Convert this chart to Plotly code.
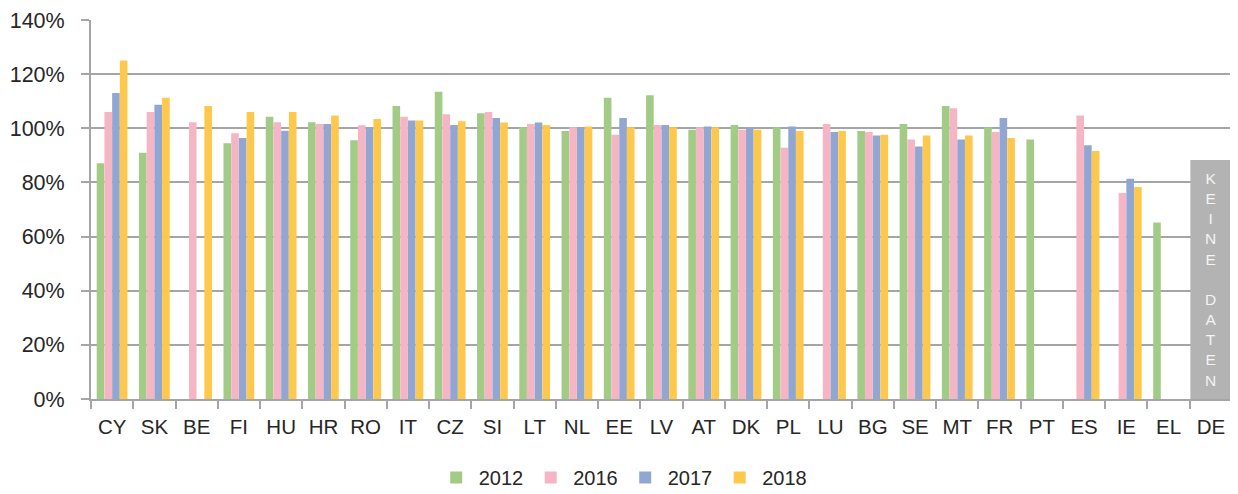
import plotly.graph_objects as go

categories = ["CY", "SK", "BE", "FI", "HU", "HR", "RO", "IT", "CZ", "SI", "LT", "NL", "EE", "LV",
              "AT", "DK", "PL", "LU", "BG", "SE", "MT", "FR", "PT", "ES", "IE", "EL", "DE"]
years = ["2012", "2016", "2017", "2018"]

v2012 = [87.1, 91.0, None, 94.5, 104.3, 102.2, 95.6, 108.2, 113.5, 105.6, 100.4, 99.0, 111.3, 112.2,
         99.5, 101.2, 100.4, None, 99.0, 101.6, 108.2, 100.4, 95.9, None, None, 65.2, None]
v2016 = [106.0, 106.0, 102.2, 98.2, 102.2, 101.6, 101.1, 104.3, 105.2, 106.0, 101.6, 100.4, 97.6, 101.2,
         100.4, 99.5, 92.8, 101.6, 98.6, 95.9, 107.4, 98.6, None, 104.7, 76.1, None, None]
v2017 = [113.0, 108.7, None, 96.4, 99.1, 101.6, 100.0, 102.9, 101.2, 103.8, 102.1, 100.0, 103.8, 101.2,
         100.7, 100.0, 100.7, 98.6, 97.3, 93.3, 95.9, 103.8, None, 93.7, 81.4, None, None]
v2018 = [125.0, 111.3, 108.2, 106.0, 106.0, 104.7, 103.4, 102.9, 102.6, 102.1, 101.2, 100.7, 100.4, 100.4,
         100.4, 99.5, 99.0, 99.0, 97.6, 97.3, 97.3, 96.4, None, 91.6, 78.3, None, None]
no_data_cat = ["DE"]
no_data_height = [88.3]
no_data_words = ["KEINE", "DATEN"]

series = [v2012, v2016, v2017, v2018]
colors = ["#A2CB86", "#F5B5C5", "#91A7D2", "#FEC84C"]

bar_w = 0.18
offsets = [-0.365, -0.1825, 0.0, 0.1825]

fig = go.Figure()
for name, vals, col, off in zip(years, series, colors, offsets):
    fig.add_trace(go.Bar(
        x=categories, y=vals, name=name,
        marker=dict(color=col, line=dict(width=0)),
        width=bar_w, offset=off,
    ))

fig.add_trace(go.Bar(
    x=no_data_cat, y=no_data_height, showlegend=False,
    marker=dict(color="#B3B3B3", line=dict(width=0)),
    width=0.97, offset=-0.485, hoverinfo="skip",
))

vertical_text = "<br><br>".join("<br>".join(list(w)) for w in no_data_words)
fig.add_annotation(
    x=no_data_cat[0], y=no_data_height[0] / 2, xref="x", yref="y",
    text=vertical_text, showarrow=False,
    font=dict(family="Liberation Sans, Arial", size=15.5, color="#F4F4F4"),
    align="center",
)

fig.update_layout(
    barmode="overlay",
    width=1230, height=486,
    margin=dict(l=83, r=6, t=12, b=95, autoexpand=False),
    paper_bgcolor="white", plot_bgcolor="white",
    font=dict(family="Liberation Sans, Arial", size=20, color="#262626"),
    legend=dict(orientation="h", x=0.466, xanchor="center", y=-0.207, yanchor="middle",
                font=dict(size=20), itemwidth=35, traceorder="normal"),
    showlegend=True,
)
fig.update_yaxes(
    range=[0, 140], dtick=20, ticksuffix="%",
    showgrid=True, gridcolor="#A5A5A5", gridwidth=2,
    showline=True, linecolor="#A5A5A5", linewidth=2,
    ticks="outside", ticklen=8, tickcolor="#A5A5A5", tickwidth=2,
    ticklabelstandoff=12, zeroline=False,
    tickfont=dict(size=21.5),
)
fig.update_xaxes(
    type="category", categoryorder="array", categoryarray=categories,
    range=[-0.5, len(categories) - 0.5],
    showline=True, linecolor="#A5A5A5", linewidth=2,
    ticks="outside", ticklen=8, tickcolor="#A5A5A5", tickwidth=2,
    tickson="boundaries", showgrid=False,
    ticklabelstandoff=8, tickangle=0,
    tickfont=dict(size=20.5),
)

fig.write_html("out.html")
